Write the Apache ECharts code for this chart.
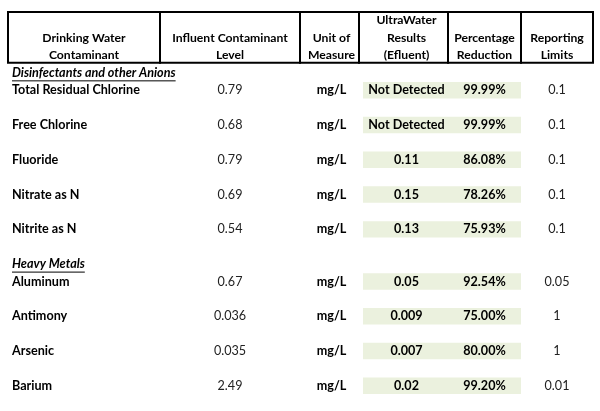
<!DOCTYPE html>
<html>
<head>
<meta charset="utf-8">
<script src="https://cdn.jsdelivr.net/npm/echarts@6/dist/echarts.min.js"></script>
<style>
  html, body { margin: 0; padding: 0; background: #fff; }
  #chart { width: 600px; height: 411px; }
</style>
</head>
<body>
<div id="chart"></div>
<script>
// ---- data ----
const headers = [
  ["Drinking Water", "Contaminant"],
  ["Influent Contaminant", "Level"],
  ["Unit of", "Measure"],
  ["UltraWater", "Results", "(Efluent)"],
  ["Percentage", "Reduction"],
  ["Reporting", "Limits"]
];
const sections = ["Disinfectants and other Anions", "Heavy Metals"];
const contaminants = ["Total Residual Chlorine", "Free Chlorine", "Fluoride", "Nitrate as N", "Nitrite as N",
  "Aluminum", "Antimony", "Arsenic", "Barium"];
const sectionOf = [0, 0, 0, 0, 0, 1, 1, 1, 1];
const influent = ["0.79", "0.68", "0.79", "0.69", "0.54", "0.67", "0.036", "0.035", "2.49"];
const units = ["mg/L", "mg/L", "mg/L", "mg/L", "mg/L", "mg/L", "mg/L", "mg/L", "mg/L"];
const effluent = ["Not Detected", "Not Detected", "0.11", "0.15", "0.13", "0.05", "0.009", "0.007", "0.02"];
const reduction = ["99.99%", "99.99%", "86.08%", "78.26%", "75.93%", "92.54%", "75.00%", "80.00%", "99.20%"];
const limits = ["0.1", "0.1", "0.1", "0.1", "0.1", "0.05", "1", "1", "0.01"];

// ---- layout (not data) ----
const colEdges = [0, 152, 292, 351, 440, 513, 585];
const colShift = [0, 0, 2, 3, 0, 0];
const FONT = 'Lato, "Noto Sans", sans-serif';
const FS = 12.6;
const HFS = 12.2;

// Build slot table (rows of the category axis)
const HEADER_SLOTS = 3;
const slots = [];
for (let i = 0; i < HEADER_SLOTS; i++) slots.push({ kind: 'header', ref: i });
let prevSection = -1;
contaminants.forEach((name, i) => {
  const s = sectionOf[i];
  if (s !== prevSection) {
    if (prevSection !== -1) slots.push({ kind: 'blank' });
    slots.push({ kind: 'section', ref: s });
    prevSection = s;
  } else {
    slots.push({ kind: 'blank' });
  }
  slots.push({ kind: 'row', ref: i });
});
const slotNames = slots.map((s, i) => 'slot' + i);
const rowSlot = [];
const sectionSlot = [];
slots.forEach((s, i) => {
  if (s.kind === 'row') rowSlot[s.ref] = i;
  if (s.kind === 'section') sectionSlot[s.ref] = i;
});

const bodyCols = [contaminants, influent, units, effluent, reduction, limits];
const boldCols = [true, false, true, true, true, false];

const headerData = headers.map((h, c) => [c, 0]);
const greenData = contaminants.map((_, i) => [3, rowSlot[i]]);
const cellData = [];
const cellText = [];
bodyCols.forEach((arr, c) => {
  arr.forEach((t, i) => {
    cellData.push([c, rowSlot[i]]);
    cellText.push(t);
  });
});
const sectionData = sections.map((s, i) => [0, sectionSlot[i]]);

const measureCtx = document.createElement('canvas').getContext('2d');
function textWidth(t, font) { measureCtx.font = font; return measureCtx.measureText(t).width; }

const chart = echarts.init(document.getElementById('chart'), null, { renderer: 'canvas' });

function slotH(api) { return api.size([0, 1])[1]; }

chart.setOption({
  animation: false,
  backgroundColor: '#ffffff',
  grid: { left: 8, right: 7, top: 12, bottom: 16.5 },
  xAxis: { type: 'value', min: 0, max: 585, show: false },
  yAxis: { type: 'category', data: slotNames, inverse: true, show: false },
  series: [
    {
      type: 'custom',
      data: headerData,
      renderItem: function (params, api) {
        const c = api.value(0);
        const h = slotH(api);
        const p0 = api.coord([colEdges[c], 0]);
        const p1 = api.coord([colEdges[c + 1], HEADER_SLOTS - 1]);
        const top = p0[1] - h / 2, bottom = p1[1] + h / 2 - 1.5;
        const lines = headers[c];
        const children = [{
          type: 'rect',
          shape: { x: p0[0], y: top, width: p1[0] - p0[0], height: bottom - top },
          style: { fill: 'none', stroke: '#000', lineWidth: 2 }
        }];
        const startSlot = HEADER_SLOTS - lines.length;
        lines.forEach((t, k) => {
          const pc = api.coord([(colEdges[c] + colEdges[c + 1]) / 2 + colShift[c], startSlot + k]);
          children.push({
            type: 'text', x: pc[0], y: pc[1] - 0.5,
            style: { text: t, fill: '#000', fontSize: HFS, fontWeight: 'bold', fontFamily: FONT, align: 'center', verticalAlign: 'middle' }
          });
        });
        return { type: 'group', children: children };
      }
    },
    {
      type: 'custom',
      data: greenData,
      renderItem: function (params, api) {
        const s = api.value(1);
        const h = slotH(api);
        const a = api.coord([colEdges[3] + 4, s]);
        const b = api.coord([colEdges[5], s]);
        return {
          type: 'rect',
          shape: { x: a[0], y: a[1] - h / 2 + 0.5, width: b[0] - a[0], height: h - 1 },
          style: { fill: '#ebf1de' }
        };
      }
    },
    {
      type: 'custom',
      data: sectionData,
      renderItem: function (params, api) {
        const s = api.value(1);
        const p = api.coord([colEdges[0] + 4, s]);
        const t = sections[params.dataIndex];
        const font = 'italic bold ' + FS + 'px ' + FONT;
        const w = textWidth(t, font);
        return {
          type: 'group',
          children: [
            { type: 'text', x: p[0], y: p[1],
              style: { text: t, fill: '#000', fontSize: FS, fontWeight: 'bold', fontStyle: 'italic', fontFamily: FONT, align: 'left', verticalAlign: 'middle' } },
            { type: 'line', shape: { x1: p[0], y1: p[1] + 8, x2: p[0] + w, y2: p[1] + 8 },
              style: { stroke: '#000', lineWidth: 1 } }
          ]
        };
      }
    },
    {
      type: 'custom',
      data: cellData,
      renderItem: function (params, api) {
        const c = api.value(0);
        const s = api.value(1);
        const left = c === 0;
        const x = left ? colEdges[0] + 4 : (colEdges[c] + colEdges[c + 1]) / 2 + colShift[c];
        const p = api.coord([x, s]);
        return {
          type: 'text', x: p[0], y: p[1],
          style: {
            text: cellText[params.dataIndex],
            fill: boldCols[c] ? '#000' : '#222',
            fontSize: FS, fontWeight: boldCols[c] ? 'bold' : 'normal', fontFamily: FONT,
            align: left ? 'left' : 'center', verticalAlign: 'middle'
          }
        };
      }
    }
  ]
});
</script>
</body>
</html>
